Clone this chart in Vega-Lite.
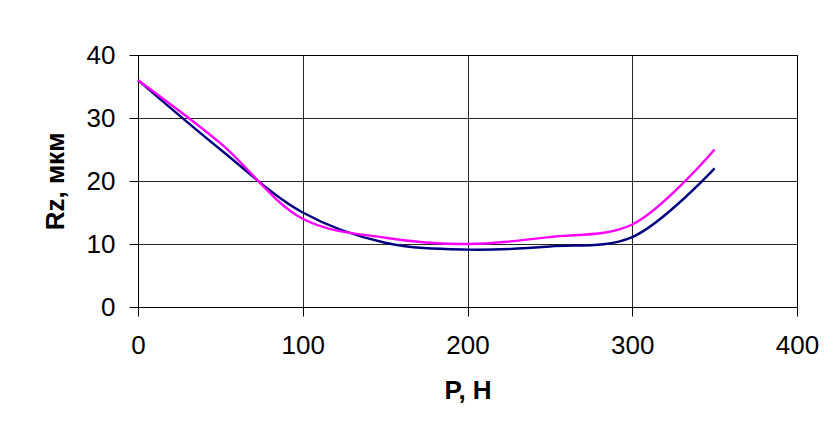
{
  "$schema": "https://vega.github.io/schema/vega-lite/v6.json",
  "width": 659,
  "height": 252,
  "autosize": {"type": "none"},
  "padding": {"left": 138, "top": 55, "right": 36, "bottom": 132},
  "background": "white",
  "config": {
    "font": "Liberation Sans",
    "view": {"stroke": "black", "strokeWidth": 1},
    "axis": {
      "gridColor": "#000000",
      "gridOpacity": 0.85,
      "gridWidth": 1,
      "domainColor": "#000000",
      "domainWidth": 1,
      "tickColor": "#000000",
      "tickSize": 9,
      "tickWidth": 1,
      "labelFont": "Liberation Sans",
      "labelFontSize": 26,
      "labelColor": "#000000",
      "titleFont": "Liberation Sans",
      "titleFontSize": 26,
      "titleFontWeight": "bold",
      "titleColor": "#000000"
    }
  },
  "data": {
    "values": [
      {"P": 0, "Rz": 36, "s": "A"},
      {"P": 50, "Rz": 25, "s": "A"},
      {"P": 100, "Rz": 15, "s": "A"},
      {"P": 150, "Rz": 10.2, "s": "A"},
      {"P": 200, "Rz": 9.1, "s": "A"},
      {"P": 250, "Rz": 9.6, "s": "A"},
      {"P": 300, "Rz": 11.1, "s": "A"},
      {"P": 350, "Rz": 22, "s": "A"},
      {"P": 0, "Rz": 36, "s": "B"},
      {"P": 50, "Rz": 26, "s": "B"},
      {"P": 100, "Rz": 14, "s": "B"},
      {"P": 150, "Rz": 11, "s": "B"},
      {"P": 200, "Rz": 10, "s": "B"},
      {"P": 250, "Rz": 11.1, "s": "B"},
      {"P": 300, "Rz": 13.1, "s": "B"},
      {"P": 350, "Rz": 25, "s": "B"}
    ]
  },
  "mark": {"type": "line", "interpolate": "catmull-rom", "strokeWidth": 2.4},
  "encoding": {
    "x": {
      "field": "P",
      "type": "quantitative",
      "scale": {"domain": [0, 400], "nice": false},
      "axis": {"values": [0, 100, 200, 300, 400], "title": "P, H", "labelPadding": 16, "titlePadding": 19, "labelFlush": false}
    },
    "y": {
      "field": "Rz",
      "type": "quantitative",
      "scale": {"domain": [0, 40], "nice": false},
      "axis": {"values": [0, 10, 20, 30, 40], "title": "Rz, мкм", "labelPadding": 14, "titlePadding": 18}
    },
    "color": {
      "field": "s",
      "type": "nominal",
      "scale": {"domain": ["A", "B"], "range": ["#000080", "#FF00FF"]},
      "legend": null
    }
  }
}
